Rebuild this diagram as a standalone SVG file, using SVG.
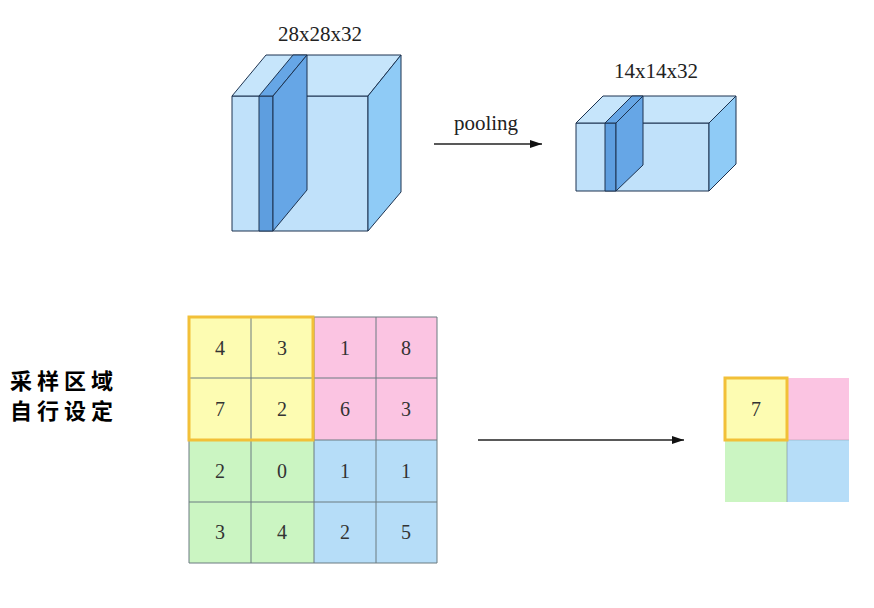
<svg xmlns="http://www.w3.org/2000/svg" width="874" height="608" viewBox="0 0 874 608">
<defs>
<style>
.lbl{font-family:"Liberation Serif","Times New Roman",serif;font-size:21px;fill:#222;text-anchor:middle}
.num{font-family:"Liberation Serif","Times New Roman",serif;font-size:20px;fill:#333;text-anchor:middle;dominant-baseline:central}
.cjk{font-family:"Noto Sans CJK SC","Noto Sans",sans-serif;font-size:22px;font-weight:bold;fill:#000;letter-spacing:5px}
.edge{stroke:#1d3350;stroke-width:1;stroke-linejoin:round}
.face{fill:#c0e1fa}
.top{fill:#c6e5fb}
.side{fill:#8fcbf6}
.sf{fill:#5e9edf}
.ss{fill:#66a6e6}
.grid{stroke:#6b7a80;stroke-width:1}
.hl{fill:none;stroke:#f2c038;stroke-width:3}
.conn{stroke:#222;stroke-width:1.3;fill:none}
</style>
<marker id="ah" viewBox="0 0 12 8" refX="12" refY="4" markerWidth="12" markerHeight="8" markerUnits="userSpaceOnUse" orient="auto">
<path d="M0,0 L12,4 L0,8 Z" fill="#111"/>
</marker>
</defs>
<rect width="874" height="608" fill="#fff"/>

<g id="cube-big">
<text class="lbl" x="320" y="41">28x28x32</text>
<rect class="face edge" x="232" y="96" width="136" height="135"/>
<polygon class="top edge" points="232,96 266,55 401,55 368,96"/>
<polygon class="side edge" points="368,96 401,55 401,192 368,231"/>
<rect class="sf edge" x="259" y="96" width="14" height="135"/>
<polygon class="ss edge" points="259,96 293,55 307,55 273,96"/>
<polygon class="ss edge" points="273,96 307,55 307,190 273,231"/>
</g>

<g id="cube-small">
<text class="lbl" x="656" y="78">14x14x32</text>
<rect class="face edge" x="576" y="123" width="133" height="68"/>
<polygon class="top edge" points="576,123 603,96 736,96 709,123"/>
<polygon class="side edge" points="709,123 736,96 736,164 709,191"/>
<rect class="sf edge" x="605" y="123" width="11" height="68"/>
<polygon class="ss edge" points="605,123 632,96 643,96 616,123"/>
<polygon class="ss edge" points="616,123 643,96 643,165 616,191"/>
</g>

<g id="label-pooling">
<text class="lbl" x="486" y="130">pooling</text>
</g>

<g id="label-cn">
<text class="cjk" x="10" y="389">采样区域</text>
<text class="cjk" x="10" y="419">自行设定</text>
</g>

<g id="grid-4x4">
<rect x="189" y="317" width="62" height="62" fill="#fdfcb2"/>
<rect x="251" y="317" width="63" height="62" fill="#fdfcb2"/>
<rect x="189" y="379" width="62" height="61" fill="#fdfcb2"/>
<rect x="251" y="379" width="63" height="61" fill="#fdfcb2"/>
<rect x="314" y="317" width="123" height="123" fill="#fbc4e2"/>
<rect x="189" y="440" width="125" height="123" fill="#cbf5c2"/>
<rect x="314" y="440" width="123" height="123" fill="#b6ddf8"/>
<g class="grid">
<line x1="189" y1="317" x2="437" y2="317"/>
<line x1="189" y1="378" x2="437" y2="378"/>
<line x1="189" y1="440" x2="437" y2="440"/>
<line x1="189" y1="502" x2="437" y2="502"/>
<line x1="189" y1="563" x2="437" y2="563"/>
<line x1="189" y1="317" x2="189" y2="563"/>
<line x1="251" y1="317" x2="251" y2="563"/>
<line x1="314" y1="317" x2="314" y2="563"/>
<line x1="376" y1="317" x2="376" y2="563"/>
<line x1="437" y1="317" x2="437" y2="563"/>
</g>
<rect class="hl" x="189" y="317" width="124" height="123"/>
<text class="num" x="220" y="348">4</text>
<text class="num" x="282" y="348">3</text>
<text class="num" x="345" y="348">1</text>
<text class="num" x="406" y="348">8</text>
<text class="num" x="220" y="409">7</text>
<text class="num" x="282" y="409">2</text>
<text class="num" x="345" y="409">6</text>
<text class="num" x="406" y="409">3</text>
<text class="num" x="220" y="471">2</text>
<text class="num" x="282" y="471">0</text>
<text class="num" x="345" y="471">1</text>
<text class="num" x="406" y="471">1</text>
<text class="num" x="220" y="532">3</text>
<text class="num" x="282" y="532">4</text>
<text class="num" x="345" y="532">2</text>
<text class="num" x="406" y="532">5</text>
</g>

<g id="grid-2x2">
<rect x="725" y="378" width="62" height="62" fill="#fdfcb2"/>
<rect x="787" y="378" width="62" height="62" fill="#fbc4e2"/>
<rect x="725" y="440" width="62" height="62" fill="#cbf5c2"/>
<rect x="787" y="440" width="62" height="62" fill="#b6ddf8"/>
<line class="grid" x1="787" y1="440" x2="787" y2="502" stroke-opacity="0.5"/>
<line class="grid" x1="787" y1="440" x2="849" y2="440" stroke-opacity="0.3"/>
<rect class="hl" x="725" y="378" width="62" height="62"/>
<text class="num" x="756" y="409">7</text>
</g>

<g id="connectors">
<line class="conn" x1="434" y1="144" x2="542" y2="144" marker-end="url(#ah)"/>
<line class="conn" x1="478" y1="440" x2="684" y2="440" marker-end="url(#ah)"/>
</g>
</svg>
